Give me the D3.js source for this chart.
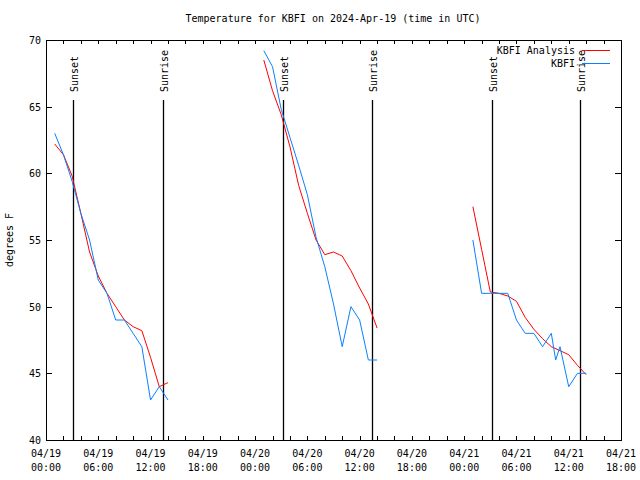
<!DOCTYPE html>
<html><head><meta charset="utf-8">
<script src="https://cdn.jsdelivr.net/npm/d3@7"></script>
<style>
body{margin:0;background:#fff;}
text{font-family:"DejaVu Sans Mono","Liberation Mono",monospace;font-size:10px;fill:#000;}
</style></head>
<body><svg id="c" width="640" height="480"></svg>
<script>
// Hours after 2024-04-19 00:00 UTC (null = gap between runs)
const analysisHours = [1,2,3,4,5,6,7,8,9,10,11,12,13,14,null,
  25,26,27,28,29,30,31,32,33,34,35,36,37,38,null,
  49,50,51,52,53,54,55,56,57,58,59,60,61,62];
const analysisTemps = [62.2,61.4,59.8,57.0,54.1,52.3,51.0,50.0,49.0,48.5,48.2,46.2,44.0,44.3,null,
  68.5,66.2,64.4,62.0,59.1,57.0,55.0,53.9,54.1,53.8,52.7,51.4,50.2,48.4,null,
  57.5,54.3,51.1,51.0,50.8,50.4,49.2,48.3,47.6,47.0,46.7,46.4,45.6,44.9];
const obsHours = [1,2,3,4,5,6,7,8,9,10,11,12,13,14,null,
  25,26,27,28,29,30,31,32,33,34,35,36,37,38,null,
  49,50,51,52,53,54,55,56,57,58,58.5,59,60,61,62];
const obsTemps = [63,61.4,59.4,57,55,52,51,49,49,48,47,43,44,43,null,
  69.2,68,64.8,62.7,60.6,58.4,55.2,53,50.2,47,50,49,46,46,null,
  55,51,51,51,51,49,48,48,47,48,46,47,44,45,45];
const sunsetHours = [3.1, 27.2, 51.2];
const sunriseHours = [13.4, 37.4, 61.3];
const yTicks = [40,45,50,55,60,65,70];
const seriesNames = ["KBFI Analysis","KBFI"];
const seriesColors = ["#ff0000","#0a80ff"];
const titleText = "Temperature for KBFI on 2024-Apr-19 (time in UTC)";
const yLabel = "degrees F";

const t0 = Date.UTC(2024,3,19,0,0);
const toDate = h => new Date(t0 + h*3600e3);

const svg = d3.select("#c");
const L=46, R=621, T=40, B=440;
const x = d3.scaleUtc().domain([toDate(0), toDate(66)]).range([L,R]);
const y = d3.scaleLinear().domain([40,70]).range([B,T]);

// frame
svg.append("rect").attr("x",L+0.5).attr("y",T+0.5).attr("width",R-L).attr("height",B-T)
  .attr("fill","none").attr("stroke","#000").attr("stroke-width",1);

// x ticks every 2 hours
const xt = d3.range(0,67,2).map(toDate);
const g = svg.append("g");
xt.forEach(d=>{
  const px = Math.round(x(d))+0.5;
  g.append("line").attr("x1",px).attr("x2",px).attr("y1",B).attr("y2",B-4).attr("stroke","#000");
  g.append("line").attr("x1",px).attr("x2",px).attr("y1",T).attr("y2",T+4).attr("stroke","#000");
});
const fmtD = d3.utcFormat("%m/%d"), fmtH = d3.utcFormat("%H:%M");
d3.range(0,67,6).map(toDate).forEach(d=>{
  const px = x(d);
  g.append("text").attr("x",px).attr("y",457).attr("text-anchor","middle").text(fmtD(d));
  g.append("text").attr("x",px).attr("y",471).attr("text-anchor","middle").text(fmtH(d));
});
// y ticks
yTicks.forEach(v=>{
  const py = Math.round(y(v))+0.5;
  g.append("line").attr("x1",L).attr("x2",L+6).attr("y1",py).attr("y2",py).attr("stroke","#000");
  g.append("line").attr("x1",R).attr("x2",R-6).attr("y1",py).attr("y2",py).attr("stroke","#000");
  g.append("text").attr("x",41).attr("y",py).attr("dy","0.35em").attr("text-anchor","end").text(v);
});

// title & y label
svg.append("text").attr("x",333).attr("y",22).attr("text-anchor","middle").text(titleText);
svg.append("text").attr("transform","translate(13,240) rotate(-90)").attr("text-anchor","middle").text(yLabel);

// sun lines
function sunLine(h,label){
  const px = Math.round(x(toDate(h)))+0.5;
  svg.append("line").attr("x1",px).attr("x2",px).attr("y1",100).attr("y2",B).attr("stroke","#000").attr("stroke-width",1.3);
  svg.append("text").attr("transform",`translate(${px+4},92) rotate(-90)`).attr("text-anchor","start").text(label);
}
sunsetHours.forEach(h=>sunLine(h,"Sunset"));
sunriseHours.forEach(h=>sunLine(h,"Sunrise"));

// series
const line = d3.line().defined(d=>d[0]!==null && d[1]!==null).x(d=>x(toDate(d[0]))).y(d=>y(d[1]));
const aData = analysisHours.map((h,i)=>[h,analysisTemps[i]]);
const oData = obsHours.map((h,i)=>[h,obsTemps[i]]);
svg.append("path").attr("d",line(aData)).attr("fill","none").attr("stroke",seriesColors[0]).attr("stroke-width",1);
svg.append("path").attr("d",line(oData)).attr("fill","none").attr("stroke",seriesColors[1]).attr("stroke-width",1);

// legend
seriesNames.forEach((n,i)=>{
  const ly = 50 + i*13;
  svg.append("text").attr("x",575).attr("y",ly).attr("dy","0.35em").attr("text-anchor","end").text(n);
  svg.append("line").attr("x1",582).attr("x2",610).attr("y1",ly+0.5).attr("y2",ly+0.5).attr("stroke",seriesColors[i]);
});
</script></body></html>
